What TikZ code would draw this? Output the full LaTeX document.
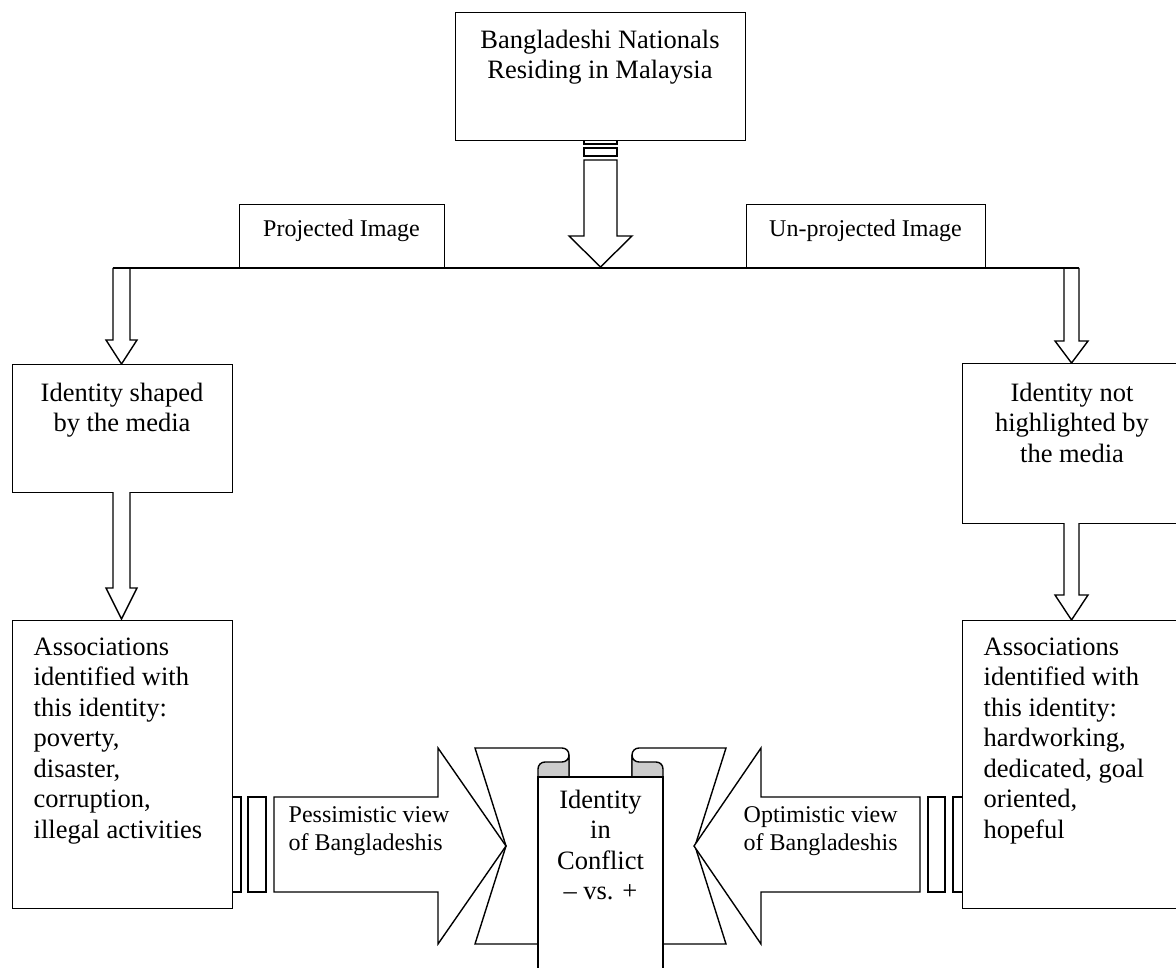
\documentclass[tikz,border=0pt]{standalone}
\usepackage{fontspec}
\setmainfont{Liberation Serif}
\begin{document}
\begin{tikzpicture}[x=1pt,y=-1pt, line width=1.4pt, line join=miter,
  box/.style={draw, fill=white, rectangle, inner sep=0pt, anchor=north west},
  big/.style={font=\fontsize{26.5}{30.5}\selectfont, inner sep=0pt},
  small/.style={font=\fontsize{24}{27.5}\selectfont, inner sep=0pt},
  blk/.style={draw, fill=white},
  fold/.style={draw, fill=black!20}]
\useasboundingbox (0,0) rectangle (1176,968);
\clip (0,0) rectangle (1176,968);

% ---------- top box and central down arrow
\draw[blk] (584,134) rectangle (617,144);
\node[box, minimum width=290pt, minimum height=128pt] (top) at (455,12) {};
\node[big, anchor=north, align=center] (toptxt) at (600,29) {Bangladeshi Nationals\\Residing in Malaysia};
\draw[blk] (584,148) rectangle (617,156);
\draw[blk] (584,160) -- (617,160) -- (617,236) -- (632,236) -- (600.5,267) -- (569,236) -- (584,236) -- cycle;

% ---------- labels
\node[box, minimum width=205pt, minimum height=64pt] (proj) at (239,204) {};
\node[small, anchor=base] (projtxt) at (341.5,237) {Projected Image};
\node[box, minimum width=239pt, minimum height=64pt] (unproj) at (746,204) {};
\node[small, anchor=base] (unprojtxt) at (865.5,237) {Un-projected Image};

% ---------- side down arrows from the bar
\draw[blk] (113,268) -- (113,340) -- (106,340) -- (121.5,364) -- (137,340) -- (130,340) -- (130,268);
\draw[blk] (1064,268) -- (1064,341) -- (1055,341) -- (1071.5,363) -- (1088,341) -- (1079,341) -- (1079,268);
\coordinate (hl) at (113,268);
\coordinate (hr) at (1079,268);
\draw (hl) -- (hr);

% ---------- left column
\node[box, minimum width=220pt, minimum height=128pt] (lb1) at (12,364) {};
\node[big, anchor=north, align=center] (lb1txt) at (122,382) {Identity shaped\\by the media};
\draw[blk] (113,492) -- (113,588) -- (106,588) -- (121.5,619) -- (137,588) -- (130,588) -- (130,492);
\draw[blk] (226,797) rectangle (241,892);
\node[box, minimum width=220pt, minimum height=288pt] (lb2) at (12,620) {};
\node[big, anchor=north west, align=left] (lb2txt) at (33,637) {Associations\\identified with\\this identity:\\poverty,\\disaster,\\corruption,\\illegal activities};

% ---------- right column
\node[box, minimum width=220pt, minimum height=160pt] (rb1) at (962,363) {};
\node[big, anchor=north, align=center] (rb1txt) at (1072,382) {Identity not\\highlighted by\\the media};
\draw[blk] (1064,523) -- (1064,595) -- (1055,595) -- (1071.5,620) -- (1088,595) -- (1079,595) -- (1079,523);
\draw[blk] (953,797) rectangle (968,892);
\node[box, minimum width=220pt, minimum height=288pt] (rb2) at (962,620) {};
\node[big, anchor=north west, align=left] (rb2txt) at (983,637) {Associations\\identified with\\this identity:\\hardworking,\\dedicated, goal\\oriented,\\hopeful};

% ---------- central ribbon
\draw[blk] (538,944) -- (475,944) -- (506,846) -- (475,748) -- (562,748) .. controls (566,748) and (569,751) .. (569,755) -- (569,777) -- (538,777) -- cycle;
\draw[blk] (663,944) -- (726,944) -- (695,846) -- (726,748) -- (639,748) .. controls (635,748) and (632,751) .. (632,755) -- (632,777) -- (663,777) -- cycle;
\draw[fold] (569,755) .. controls (569,759) and (566,762) .. (562,762) -- (545,762) .. controls (541,762) and (538,765) .. (538,769) -- (538,777) -- (569,777) -- cycle;
\draw[fold] (632,755) .. controls (632,759) and (635,762) .. (639,762) -- (656,762) .. controls (660,762) and (663,765) .. (663,769) -- (663,777) -- (632,777) -- cycle;
\draw[blk] (538,980) -- (538,777) -- (663,777) -- (663,980);
\node[big, anchor=north, align=center] (midtxt) at (600.5,789) {Identity\\in\\Conflict\\\textendash{} vs. +};

% ---------- big horizontal arrows
\draw[blk] (248,797) rectangle (266,892);
\draw[blk] (274,797) -- (438,797) -- (438,748) -- (506,846) -- (438,944) -- (438,892) -- (274,892) -- cycle;
\node[small, anchor=north west, align=left] (pesstxt) at (288,806) {Pessimistic view\\of Bangladeshis};
\draw[blk] (928,797) rectangle (945,892);
\draw[blk] (920,797) -- (761,797) -- (761,748) -- (694,846) -- (761,944) -- (761,892) -- (920,892) -- cycle;
\node[small, anchor=north west, align=left] (opttxt) at (743,806) {Optimistic view\\of Bangladeshis};
\end{tikzpicture}
\end{document}
